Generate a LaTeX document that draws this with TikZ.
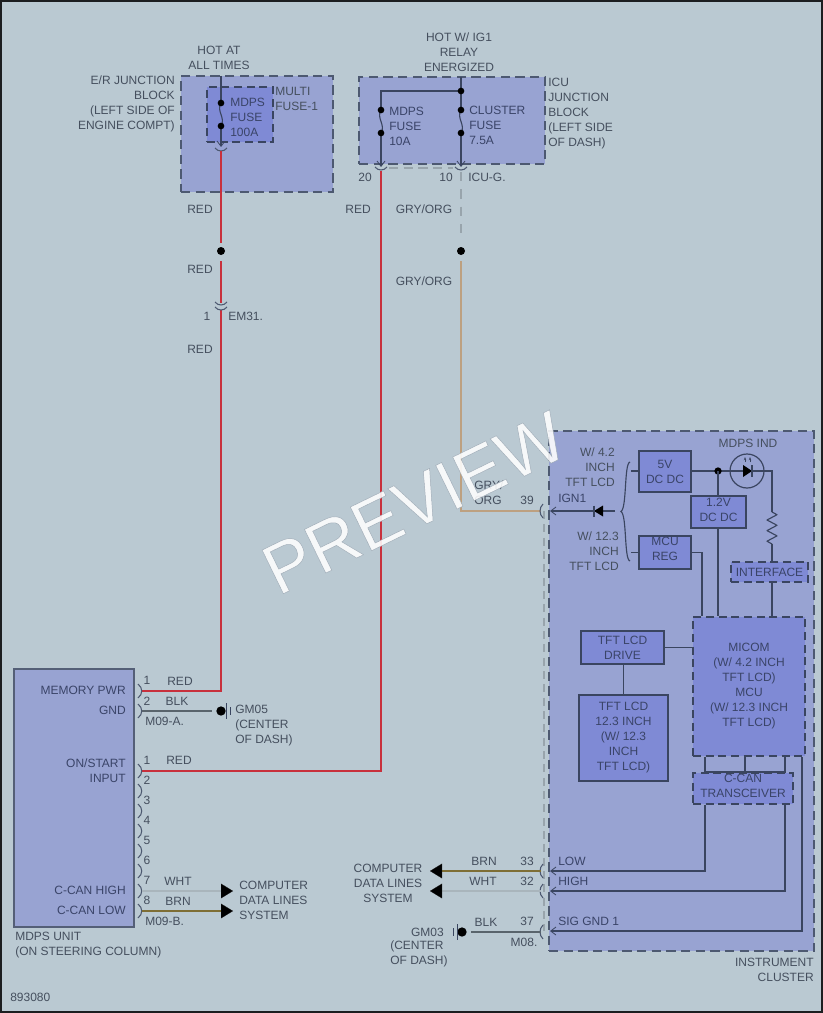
\documentclass[tikz,border=0pt]{standalone}
\usepackage{fontspec}
\setmainfont{Liberation Sans}
\usetikzlibrary{arrows.meta,calc}
\definecolor{bgc}{HTML}{BAC9D2}
\definecolor{blockc}{HTML}{98A3D2}
\definecolor{innerc}{HTML}{7F8AD5}
\definecolor{linec}{HTML}{3A4560}
\definecolor{txt}{HTML}{454F5E}
\definecolor{txtin}{HTML}{3A4468}
\definecolor{redw}{HTML}{C8303C}
\definecolor{tanw}{HTML}{BDA080}
\definecolor{gryw}{HTML}{98A4AC}
\definecolor{brnw}{HTML}{7E6E35}
\definecolor{whtw}{HTML}{A9B5BC}
\definecolor{gndw}{HTML}{59646C}
\tikzset{
  x=0.75pt,y=-0.75pt,
  lab/.style={font=\fontsize{9}{11.25}\selectfont,text=txt,inner sep=0pt,align=center},
  labl/.style={lab,anchor=west,align=left},
  labr/.style={lab,anchor=east,align=right},
  labin/.style={lab,text=txtin},
  lablin/.style={labl,text=txtin},
  labrin/.style={labr,text=txtin},
  solidbox/.style={draw=linec,line width=1.1pt,fill=innerc,inner sep=0pt,lab,text=txtin},
  dashbox/.style={draw=linec,line width=1.1pt,dash pattern=on 6pt off 3.5pt,fill=innerc,inner sep=0pt,lab,text=txtin},
  blockbox/.style={draw=linec!85!bgc,line width=1.1pt,dash pattern=on 7pt off 4pt,fill=blockc,inner sep=0pt},
  unitbox/.style={draw=linec!80!bgc,line width=1.1pt,fill=blockc,inner sep=0pt},
  wire/.style={draw=linec,line width=0.85pt},
  tipped/.style={wire,-{Straight Barb[length=4pt,width=6pt,line width=0.6pt]}},
  redwire/.style={draw=redw,line width=2.2pt},
  tanwire/.style={draw=tanw,line width=1.4pt},
  grywire/.style={draw=gryw,line width=1.4pt,dash pattern=on 7pt off 6pt},
  brnwire/.style={draw=brnw,line width=2.2pt},
  whtwire/.style={draw=whtw,line width=1.6pt},
  gndwire/.style={draw=gndw,line width=1.7pt},
  pointer/.style={-{Triangle[length=9pt,width=11pt,fill=black]},black!85},
  dotn/.style={circle,fill=black,inner sep=0pt,minimum size=6pt},
  conn/.style={draw=linec!85!bgc,line width=0.8pt},
  cup/.pic={\draw[conn] (-6,-2) .. controls (-3,2) and (3,2) .. (6,-2);},
  lcon/.pic={\draw[conn] (-2,-7) .. controls (-6,-3) and (-6,3) .. (-2,7);},
  rcon/.pic={\draw[conn] (-2,-7) .. controls (3,-3) and (3,3) .. (-2,7);},
}
\newcommand{\boxn}[7]{\node[#6,minimum width={(#4-#2)*0.75pt},minimum height={(#5-#3)*0.75pt}] (#1) at ({(#2+#4)/2},{(#3+#5)/2}) {#7};}
\begin{document}
\begin{tikzpicture}
\useasboundingbox (0,0) rectangle (823,1013);
\fill[bgc] (0,0) rectangle (823,1013);
\draw[draw=black!85!bgc,line width=3.2pt] (0,0) rectangle (823,1013);

% blocks
\boxn{erblock}{181}{76}{333}{192}{blockbox}{}
\boxn{multi}{207}{87}{273}{142}{dashbox}{}
\boxn{icublock}{359}{77}{545}{164}{blockbox}{}
\boxn{cluster}{549}{431}{814}{951}{blockbox}{}
\boxn{mdpsunit}{14}{669}{134}{927}{unitbox}{}

% cluster inner
\coordinate (lightA) at (544,511);
\coordinate (lightB) at (544,931);
\draw[draw=gryw,line width=0.8pt,dash pattern=on 6pt off 4pt] (lightA) -- (lightB);

\boxn{fivev}{639}{451}{691}{492}{solidbox}{5V\\DC DC}
\boxn{onetwo}{691}{496}{746}{528}{solidbox}{}
\boxn{mcureg}{639}{536}{691}{569}{solidbox}{}
\boxn{iface}{731}{562}{808}{582}{dashbox}{INTERFACE}
\boxn{micom}{693}{617}{805}{756}{dashbox}{MICOM\\(W/ 4.2 INCH\\TFT LCD)\\MCU\\(W/ 12.3 INCH\\TFT LCD)}
\boxn{drive}{581}{631}{664}{664}{solidbox}{TFT LCD\\DRIVE}
\boxn{lcd}{579}{695}{668}{781}{solidbox}{TFT LCD\\12.3 INCH\\(W/ 12.3\\INCH\\TFT LCD)}
\boxn{ccan}{693}{773}{793}{804}{dashbox}{}
\node[labin] (onetwot) at (718.5,509.5) {1.2V\\DC DC};
\node[labin] (mcuregt) at (665,549) {MCU\\REG};
\node[labin] (ccant) at (743,785.5) {C-CAN\\TRANSCEIVER};

% top wires inside blocks
\coordinate (hotA) at (221,76);
\coordinate (hotB) at (221,147);
\coordinate (mf1) at (221,103);
\coordinate (mf2) at (221,126);
\draw[wire] (hotA) -- (mf1);
\draw[tipped] (mf2) -- (hotB);
\draw[wire] (mf1) .. controls (216,111) and (226,118) .. (mf2);
\node[dotn,minimum size=5pt] (d1) at (mf1) {};
\node[dotn,minimum size=5pt] (d2) at (mf2) {};
\pic at (221,150) {cup};

\coordinate (igA) at (461,77);
\coordinate (igJ) at (461,91);
\coordinate (igL) at (381,91);
\coordinate (fa1) at (381,110);
\coordinate (fa2) at (381,133);
\coordinate (fb1) at (461,110);
\coordinate (fb2) at (461,133);
\coordinate (fa3) at (381,167);
\coordinate (fb3) at (461,167);
\draw[wire] (igA) -- (fb1);
\draw[wire] (igJ) -- (igL) -- (fa1);
\draw[wire] (fa1) .. controls (376,118) and (386,125) .. (fa2);
\draw[wire] (fb1) .. controls (456,118) and (466,125) .. (fb2);
\draw[tipped] (fa2) -- (fa3);
\draw[tipped] (fb2) -- (fb3);
\foreach \c/\n in {igJ/d3,fa1/d4,fa2/d5,fb1/d6,fb2/d7}{\node[dotn,minimum size=5pt] (\n) at (\c) {};}
\pic at (381,169) {cup};
\pic at (461,169) {cup};
\draw[draw=gryw,line width=0.9pt,dash pattern=on 7pt off 4pt] ($(fa3)+(8,1)$) -- ($(fb3)+(-8,1)$);

% power wires
\node[dotn] (spliceA) at (221,251) {};
\node[dotn] (spliceB) at (461,251) {};
\coordinate (redA) at (221,151);
\coordinate (redB) at (221,243);
\coordinate (redC) at (221,261);
\coordinate (redD) at (221,303);
\coordinate (redE) at (221,310);
\coordinate (redF) at (221,691);
\coordinate (pinM) at (142,691);
\draw[redwire] (redA) -- (redB);
\draw[redwire] (redC) -- (redD);
\draw[redwire] (redE) -- (redF) -- (pinM);
\pic at (221,304) {cup};
\pic at (221,309) {cup};
\coordinate (redG) at (381,171);
\coordinate (redH) at (381,771);
\coordinate (pinO) at (142,771);
\draw[redwire] (redG) -- (redH) -- (pinO);
\coordinate (gryA) at (461,172);
\coordinate (gryB) at (461,241);
\draw[grywire] (gryA) -- (gryB);
\coordinate (tanA) at (461,261);
\coordinate (tanB) at (461,511);
\coordinate (tanC) at (541,511);
\draw[tanwire] (tanA) -- (tanB) -- (tanC);

% MDPS pins
\foreach \y in {691,711,771,791,811,831,851,871,891,911}{\pic at (140,\y) {rcon};}
\foreach \y in {511,871,891,932}{\pic at (545,\y) {lcon};}

% GND left
\coordinate (gndA) at (142,711);
\coordinate (gndB) at (212,711);
\node[dotn,minimum size=7pt] (gm05) at (221,711) {};
\draw[gndwire] (gndA) -- (gndB);
\coordinate (g5a) at (226,703);\coordinate (g5b) at (226,719);
\draw[wire,line width=0.7pt] (g5a) -- (g5b);
\coordinate (g5c) at (230,707);\coordinate (g5d) at (230,715);
\draw[wire,line width=0.6pt] (g5c) -- (g5d);
% data lines left
\coordinate (whtA) at (142,891);\coordinate (whtB) at (233,891);
\coordinate (brnA) at (142,911);\coordinate (brnB) at (233,911);
\draw[whtwire] (whtA) -- (222,891);
\draw[brnwire] (brnA) -- (222,911);
\draw[pointer,line width=0.1pt] (222,891) -- (whtB);
\draw[pointer,line width=0.1pt] (222,911) -- (brnB);

% right side data lines
\coordinate (brA) at (541,871);\coordinate (brB) at (430,871);
\coordinate (wrA) at (541,891);\coordinate (wrB) at (430,891);
\draw[brnwire] (brA) -- (441,871);
\draw[whtwire] (wrA) -- (441,891);
\draw[pointer,line width=0.1pt] (441,871) -- (brB);
\draw[pointer,line width=0.1pt] (441,891) -- (wrB);
\coordinate (gnA) at (541,932);\coordinate (gnB) at (471,932);
\draw[gndwire] (gnA) -- (gnB);
\node[dotn,minimum size=7pt] (gm03) at (462,932) {};
\coordinate (g3a) at (457,924);\coordinate (g3b) at (457,940);
\draw[wire,line width=0.7pt] (g3a) -- (g3b);
\coordinate (g3c) at (453,928);\coordinate (g3d) at (453,936);
\draw[wire,line width=0.6pt] (g3c) -- (g3d);

% cluster wiring
\coordinate (j5) at (718,471);
\coordinate (ledc) at (747,471);
\node[circle,draw=linec,line width=0.9pt,minimum size=25.5pt,inner sep=0pt] (led) at (ledc) {};
\draw[wire] (fivev.east |- j5) -- (j5) -- (led.west);
\draw[wire] (led.west) -- (led.east);
\fill[black] (743,465) -- (743,477) -- (752,471) -- cycle;
\draw[wire,line width=1pt] (752,465) -- (752,477);
\draw[wire,line width=0.6pt,-{Stealth[length=2.5pt]}] (745,462) -- (745,457);
\draw[wire,line width=0.6pt,-{Stealth[length=2.5pt]}] (750,462) -- (750,457);
\node[dotn,minimum size=5.5pt] (jd5) at (j5) {};
\draw[wire] (j5) -- (j5 |- onetwo.north);
\draw[wire] (j5 |- onetwo.south) -- (j5 |- micom.north);
\coordinate (resA) at (772,512);
\coordinate (resB) at (772,544);
\draw[wire] (led.east) -- (772,471) -- (resA);
\draw[wire,line join=round] (resA) -- ++(5,2.7) -- ++(-10,5.3) -- ++(10,5.3) -- ++(-10,5.3) -- ++(10,5.3) -- ++(-10,5.3) -- (resB);
\draw[wire] (resB) -- (resB |- iface.north);
\draw[wire] (iface.south -| resB) -- (micom.north -| resB);
\draw[wire] (mcureg.east) -- (702,552.5) -- (micom.north -| 702,0);
\coordinate (b1) at (631,471);
\coordinate (b2) at (631,552.5);
\draw[wire] (b1) -- (fivev.west |- b1);
\draw[wire] (b2) -- (mcureg.west);
\coordinate (ignEnd) at (550,511);
\coordinate (ignS) at (615,511);
\draw[tipped] (ignS) -- (ignEnd);
\fill[black] (603,505.5) -- (603,516.5) -- (594,511) -- cycle;
\draw[wire,line width=1pt] (594,505.5) -- (594,516.5);
\draw[wire] (630,462) .. controls (624,463) and (627,508) .. (621,511.5) .. controls (627,515) and (624,560) .. (630,561);
\draw[wire] (drive.east) -- (micom.west |- drive.east);
\draw[wire] (drive.south -| lcd.north) -- (lcd.north);
\draw[wire] (micom.south -| 705,0) -- (705,772) -- (785,772) -- (micom.south -| 785,0);
\draw[wire] (745,772) -- (micom.south -| 745,0);
\coordinate (lowA) at (705,871);
\coordinate (higA) at (785,891);
\coordinate (sigA) at (802,931);
\draw[tipped] (ccan.south -| lowA) -- (lowA) -- (550,871);
\draw[tipped] (ccan.south -| higA) -- (higA) -- (550,891);
\draw[tipped] (micom.south -| sigA) -- (sigA) -- (550,931);

% labels
\node[lab] (t1) at (219,58) {HOT AT\\ALL TIMES};
\node[labr] (t2) at (175,104) {E/R JUNCTION\\BLOCK\\(LEFT SIDE OF\\ENGINE COMPT)};
\node[labl] (t3) at (275,99) {MULTI\\FUSE-1};
\node[lablin] (t4) at (230,117) {MDPS\\FUSE\\100A};
\node[lab] (t5) at (459,52) {HOT W/ IG1\\RELAY\\ENERGIZED};
\node[lablin] (t6) at (389,126) {MDPS\\FUSE\\10A};
\node[lablin] (t7) at (469,125) {CLUSTER\\FUSE\\7.5A};
\node[labl] (t8) at (548,114) {ICU\\JUNCTION\\BLOCK\\(LEFT SIDE\\OF DASH)};
\node[labr] (t9) at (372,177) {20};
\node[labr] (t10) at (453,177) {10};
\node[labl] (t11) at (468,177) {ICU-G.};
\node[lab] (t12) at (200,209) {RED};
\node[lab] (t13) at (200,269) {RED};
\node[lab] (t14) at (200,349) {RED};
\node[lab] (t15) at (358,209) {RED};
\node[lab] (t16) at (424,209) {GRY/ORG};
\node[lab] (t17) at (424,281) {GRY/ORG};
\node[lab] (t18) at (207,316) {1};
\node[labl] (t19) at (228,316) {EM31.};
\node[labl] (t20) at (474,493) {GRY/\\ORG};
\node[lab] (t21) at (527,500) {39};
\node[labr] (t22) at (615,467) {W/ 4.2\\INCH\\TFT LCD};
\node[labl,text=txtin] (t23) at (558,498) {IGN1};
\node[labr] (t24) at (619,551) {W/ 12.3\\INCH\\TFT LCD};
\node[lab] (t25) at (748,443) {MDPS IND};
\node[lablin] (t26) at (558,861) {LOW};
\node[lablin] (t27) at (558,881) {HIGH};
\node[lablin] (t28) at (558,921) {SIG GND 1};
\node[lab] (t29) at (484,861) {BRN};
\node[lab] (t30) at (483,881) {WHT};
\node[lab] (t31) at (486,922) {BLK};
\node[lab] (t32) at (527,861) {33};
\node[lab] (t33) at (527,881) {32};
\node[lab] (t34) at (527,921) {37};
\node[lab] (t35) at (524,942) {M08.};
\node[lab] (t36) at (388,883) {COMPUTER\\DATA LINES\\SYSTEM};
\node[labr] (t37) at (444,932) {GM03};
\node[labl] (t38) at (390,953.5) {(CENTER\\OF DASH)};
\node[labr] (t39) at (814,969.5) {INSTRUMENT\\CLUSTER};
\node[labrin] (t40) at (126,690) {MEMORY PWR};
\node[labrin] (t41) at (126,710) {GND};
\node[labrin] (t42) at (126,770.5) {ON/START\\INPUT};
\node[labrin] (t43) at (126,890) {C-CAN HIGH};
\node[labrin] (t44) at (126,910) {C-CAN LOW};
\node[lab] (t45) at (147,680) {1};
\node[lab] (t46) at (147,701) {2};
\node[lab] (t47) at (180,681) {RED};
\node[lab] (t48) at (177,701) {BLK};
\node[labl] (t49) at (145,721) {M09-A.};
\node[lab] (t50) at (147,760) {1};
\node[lab] (t51) at (179,760) {RED};
\foreach \n/\y in {2/780,3/800,4/820,5/840,6/860,7/880,8/900}{\node[lab] (pin\n) at (147,\y) {\n};}
\node[lab] (t52) at (178,881) {WHT};
\node[lab] (t53) at (178,901) {BRN};
\node[labl] (t54) at (145,921) {M09-B.};
\node[labl] (t55) at (235,726) {GM05\\(CENTER\\OF DASH)};
\node[labl] (t56) at (239,900) {COMPUTER\\DATA LINES\\SYSTEM};
\node[labl] (t57) at (15,945.5) {MDPS UNIT\\(ON STEERING COLUMN)};
\node[labl] (t58) at (10,997) {893080};

% watermark
\node[inner sep=0pt,rotate=26,font=\fontsize{53}{53}\selectfont,text=white,text opacity=0.88] (wm) at (414,503)
  {\special{pdf:code q 2 Tr 0.35 w 0.6 0.65 0.7 RG}PREVIEW\special{pdf:code Q}};
\end{tikzpicture}
\end{document}
